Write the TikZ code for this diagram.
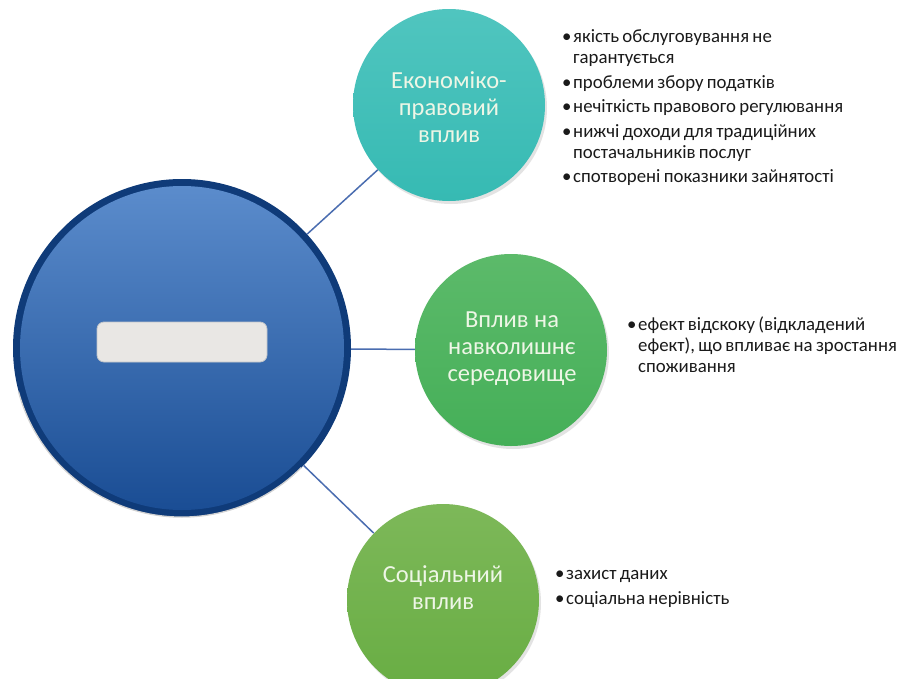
\documentclass[tikz,border=0pt]{standalone}
\usepackage{fontspec}
\setmainfont{Carlito}
\usetikzlibrary{shadows}
\definecolor{navy}{HTML}{0F3B79}
\definecolor{bluetop}{HTML}{5B8CCC}
\definecolor{bluebot}{HTML}{1A4D94}
\definecolor{tealc}{HTML}{36BAB3}
\definecolor{tealtop}{HTML}{50C5BF}
\definecolor{midgreen}{HTML}{45AF58}
\definecolor{midtop}{HTML}{5CBA6A}
\definecolor{lowgreen}{HTML}{68AD43}
\definecolor{lowtop}{HTML}{7DB859}
\definecolor{conncol}{HTML}{4A6DB0}
\definecolor{labcol}{HTML}{EEF6E6}
\definecolor{txt}{HTML}{1A1A1A}
\definecolor{barfill}{HTML}{E9E7E4}
\definecolor{barline}{HTML}{BFC4CA}
\newcommand\bl{\makebox[11pt][l]{•}}
\newcommand\ind{\hspace*{11pt}}
\newcommand\bulfont{\fontsize{18.8}{21}\selectfont\fontdimen2\font=3.3pt\relax}
\tikzset{
  bubble/.style={circle, inner sep=0pt, minimum size=192pt,
    drop shadow={opacity=0.22, shadow xshift=2pt, shadow yshift=-3pt}},
  bubtext/.style={align=center, text=labcol, font=\fontsize{24.5}{27}\selectfont, inner sep=0pt},
  conn/.style={draw=conncol, line width=1.5pt},
  bullets/.style={anchor=north west, align=left, text=txt, font=\bulfont, inner sep=0pt},
}
\begin{document}
\begin{tikzpicture}[x=1pt, y=-1pt]
\useasboundingbox (0,0) rectangle (903,678);
\clip (0,0) rectangle (903,678);
\fill[white] (0,0) rectangle (903,678);

% central circle
\node[circle, inner sep=0pt, minimum size=338pt, fill=navy] (big) at (182,348) {};
\shade[top color=bluetop, bottom color=bluebot] (big.center) circle (162pt);
\draw[gray!35, line width=1.3pt] (big.195) arc[start angle=195, end angle=315, radius=169pt];
\node[rounded corners=7pt, fill=barfill, draw=barline, line width=0.8pt,
  minimum width=170pt, minimum height=40pt, inner sep=0pt] (bar) at (182,342) {};

% satellite circles
\node[bubble, top color=tealtop, bottom color=tealc] (eco) at (449,105) {};
\node[bubble, top color=midtop, bottom color=midgreen] (env) at (511,350) {};
\node[bubble, top color=lowtop, bottom color=lowgreen] (soc) at (443,600) {};

% connectors
\draw[conn] (big) -- (eco);
\draw[conn] (big) -- (env);
\draw[conn] (big) -- (soc);

% labels in circles
\node[bubtext] (ecot) at (449,107) {Економіко-\\правовий\\вплив};
\node[bubtext] (envt) at (512,349) {Вплив на\\навколишнє\\середовище};
\node[bubtext] (soct) at (443,588) {Соціальний\\вплив};

% bullet lists
\node[bullets] (ecol) at (562,29.5) {\bl якість обслуговування не\\
\ind гарантується\\[3.5pt]
\bl проблеми збору податків\\[3.5pt]
\bl нечіткість правового регулювання\\[3.5pt]
\bl нижчі доходи для традиційних\\
\ind постачальників послуг\\[3.5pt]
\bl спотворені показники зайнятості};

\node[bullets] (envl) at (627,316.5) {\bl ефект відскоку (відкладений\\
\ind ефект), що впливає на зростання\\
\ind споживання};

\node[bullets] (socl) at (555,570.5) {\bl захист даних\\[3.5pt]
\bl соціальна нерівність};
\end{tikzpicture}
\end{document}
